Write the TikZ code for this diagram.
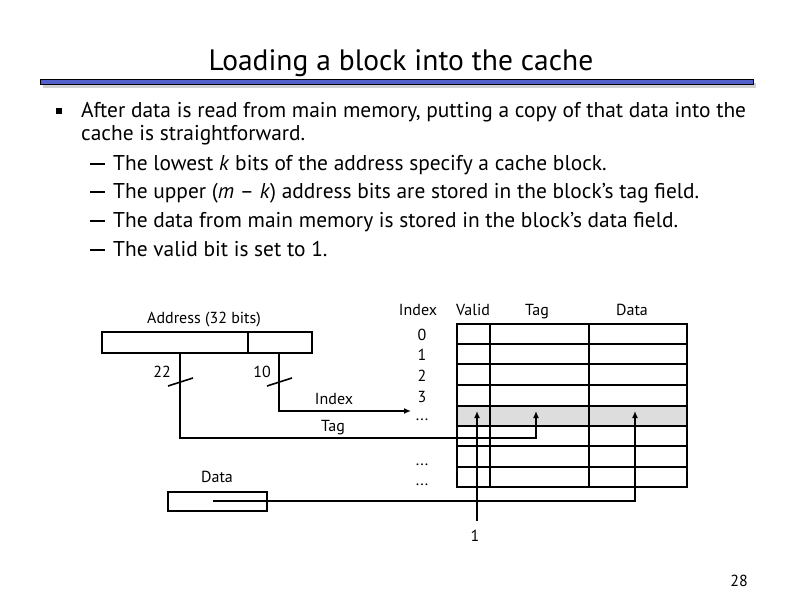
\documentclass[tikz,border=0pt]{standalone}
\usepackage{fontspec}
\setmainfont{PT Sans}
\usetikzlibrary{arrows.meta}
\definecolor{barblue}{RGB}{84,96,204}
\definecolor{rowgray}{RGB}{221,221,221}
\begin{document}
\begin{tikzpicture}[x=1pt,y=-1pt,
  bodytext/.style={anchor=base west,inner sep=0,font=\fontsize{21.4}{24}\selectfont},
  lbl/.style={inner sep=0,anchor=base,font=\fontsize{16}{18}\selectfont},
  wire/.style={line width=1.6pt},
  arr/.style={wire,-{Latex[length=7pt,width=6pt]}},
  field/.style={draw,line width=1.8pt,inner sep=0,anchor=north west},
  cell/.style={line width=1.8pt}]
\useasboundingbox (0,0) rectangle (792,612);
% title
\node[anchor=base,inner sep=0,font=\fontsize{29.5}{32}\selectfont] (title) at (401,71) {Loading a block into the cache};
\fill[gray!35] (43,83) rectangle (756,88);
\draw[line width=0.8pt,fill=barblue] (40,79) rectangle (753,84);
% body
\fill (56,108) rectangle (62,114);
\node[bodytext] (l1) at (81,118) {After data is read from main memory, putting a copy of that data into the};
\node[bodytext] (l2) at (81,141) {cache is straightforward.};
\node[bodytext] (s1) at (90,171) {\rule[6pt]{15pt}{1.6pt}\hspace{8pt}The lowest \textit{k} bits of the address specify a cache block.};
\node[bodytext] (s2) at (90,199) {\rule[6pt]{15pt}{1.6pt}\hspace{8pt}The upper (\textit{m} – \textit{k}) address bits are stored in the block’s tag field.};
\node[bodytext] (s3) at (90,228) {\rule[6pt]{15pt}{1.6pt}\hspace{8pt}The data from main memory is stored in the block’s data field.};
\node[bodytext] (s4) at (90,257) {\rule[6pt]{15pt}{1.6pt}\hspace{8pt}The valid bit is set to 1.};
% address
\node[lbl] (addrlbl) at (204,323) {Address (32 bits)};
\node[field,minimum width=146pt,minimum height=21pt] (tagf) at (101,331) {};
\node[field,minimum width=64pt,minimum height=21pt] (idxf) at (247,331) {};
\coordinate (tagdown) at (180,352);
\coordinate (idxdown) at (279,352);
\coordinate (idxturn) at (279,411);
\coordinate (idxtip) at (411,411);
\coordinate (tgturn) at (180,438);
\coordinate (tgcorner) at (536,438);
\coordinate (tgtip) at (536,411);
\draw[wire] (168,386) -- (193,378);
\draw[wire] (267,386) -- (292,378);
\node[lbl] (n22) at (162,377) {22};
\node[lbl] (n10) at (262,377) {10};
\node[lbl] (idxlbl) at (334,404) {Index};
\node[lbl] (taglbl) at (333,431) {Tag};
% data box
\node[lbl] (datalbl) at (217,482) {Data};
\node[field,minimum width=99pt,minimum height=19pt] (databox) at (167,491) {};
\coordinate (datastart) at (213,501);
\coordinate (datacorner) at (635,501);
\coordinate (datatip) at (635,411);
% cache table
\fill[rowgray] (457,406) rectangle (687,426);
\foreach \y in {324,344,364,385,406,426,446,467,487} \draw[cell] (456.1,\y) -- (687.9,\y);
\foreach \x in {457,490,589,687} \draw[cell] (\x,323.1) -- (\x,487.9);
\node[lbl] (hidx) at (418,315) {Index};
\node[lbl] (hval) at (473,315) {Valid};
\node[lbl] (htag) at (537,315) {Tag};
\node[lbl] (hdat) at (632,315) {Data};
\node[lbl] (r0) at (422,340) {0};
\node[lbl] (r1) at (422,360) {1};
\node[lbl] (r2) at (422,381) {2};
\node[lbl] (r3) at (422,402) {3};
\node[lbl] (r4) at (422,420) {...};
\node[lbl] (r6) at (422,465) {...};
\node[lbl] (r7) at (422,485) {...};
\coordinate (validstart) at (477,521);
\coordinate (validtip) at (477,411);
\draw[arr] (idxdown) -- (idxturn) -- (idxtip);
\draw[arr] (datastart) -- (datacorner) -- (datatip);
\draw[arr] (validstart) -- (validtip);
\draw[arr] (tagdown) -- (tgturn) -- (tgcorner) -- (tgtip);
\node[lbl] (one) at (475,541) {1};
% page number
\node[lbl] (page) at (739,586) {28};
\end{tikzpicture}
\end{document}
